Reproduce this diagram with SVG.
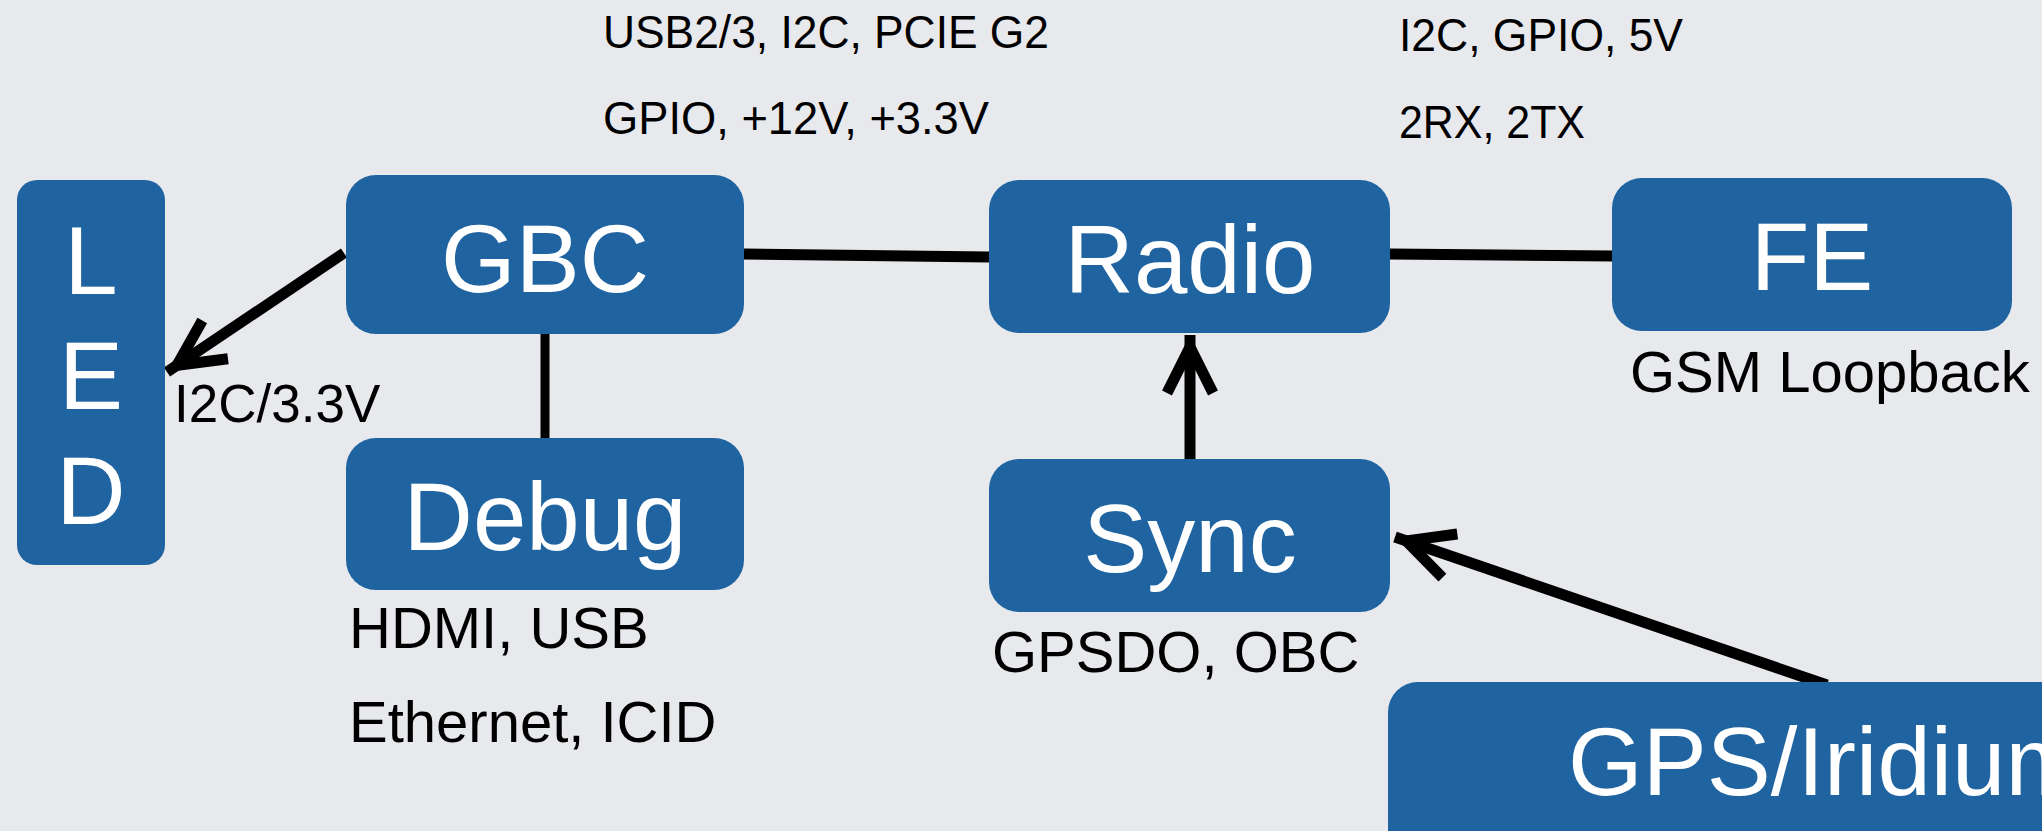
<svg xmlns="http://www.w3.org/2000/svg" width="2042" height="831" viewBox="0 0 2042 831">
  <style>
    .box { fill: #1f63a0; }
    .nlabel { font-family: "Liberation Sans", Arial, sans-serif; font-size: 96px; fill: #ffffff; text-anchor: middle; }
    .cond { font-family: "Liberation Sans Narrow", "Liberation Sans", Arial, sans-serif; font-size: 46px; fill: #000000; }
    .lbl { font-family: "Liberation Sans", Arial, sans-serif; font-size: 58px; fill: #000000; }
    .conn { stroke: #000000; stroke-width: 11; fill: none; stroke-linecap: butt; }
    .head { stroke: #000000; stroke-width: 11; fill: none; stroke-linejoin: miter; stroke-miterlimit: 10; stroke-linecap: butt; }
  </style>
  <defs>
    <marker id="arrow" markerUnits="userSpaceOnUse" viewBox="-60 -30 80 60" refX="12" refY="0" markerWidth="80" markerHeight="60" orient="auto" overflow="visible">
      <path class="head" d="M -46,-23 L 0,0 L -46,23"/>
    </marker>
  </defs>
  <rect width="2042" height="831" fill="#e8e9ed"/>

  <g id="connectors">
    <line class="conn" x1="744" y1="254" x2="989" y2="257"/>
    <line class="conn" x1="1390" y1="254" x2="1613" y2="256"/>
    <line class="conn" x1="545" y1="334" x2="545" y2="438" style="stroke-width:9"/>
    <line class="conn" x1="344" y1="253" x2="167" y2="372" marker-end="url(#arrow)"/>
    <line class="conn" x1="1190" y1="459" x2="1190" y2="335" marker-end="url(#arrow)"/>
    <line class="conn" x1="1827" y1="685" x2="1395" y2="537" marker-end="url(#arrow)"/>
  </g>

  <g id="node-led">
    <rect class="box" x="17" y="180" width="148" height="385" rx="20" ry="20"/>
    <text class="nlabel" x="91" y="294">L</text>
    <text class="nlabel" x="91" y="409">E</text>
    <text class="nlabel" x="91" y="524">D</text>
  </g>

  <g id="node-gbc">
    <rect class="box" x="346" y="175" width="398" height="159" rx="30" ry="30"/>
    <text class="nlabel" x="545" y="292">GBC</text>
  </g>

  <g id="node-debug">
    <rect class="box" x="346" y="438" width="398" height="152" rx="30" ry="30"/>
    <text class="nlabel" x="545" y="550">Debug</text>
  </g>

  <g id="node-radio">
    <rect class="box" x="989" y="180" width="401" height="153" rx="30" ry="30"/>
    <text class="nlabel" x="1190" y="293">Radio</text>
  </g>

  <g id="node-fe">
    <rect class="box" x="1612" y="178" width="400" height="153" rx="30" ry="30"/>
    <text class="nlabel" x="1812" y="290">FE</text>
  </g>

  <g id="node-sync">
    <rect class="box" x="989" y="459" width="401" height="153" rx="30" ry="30"/>
    <text class="nlabel" x="1190" y="572">Sync</text>
  </g>

  <g id="node-gps">
    <rect class="box" x="1388" y="682" width="720" height="190" rx="30" ry="30"/>
    <text class="nlabel" x="1568" y="795" style="text-anchor:start">GPS/Iridium</text>
  </g>

  <g id="labels">
    <text class="cond" x="603" y="48" textLength="446" lengthAdjust="spacingAndGlyphs">USB2/3, I2C, PCIE G2</text>
    <text class="cond" x="603" y="134" textLength="386" lengthAdjust="spacingAndGlyphs">GPIO, +12V, +3.3V</text>
    <text class="cond" x="1399" y="51" textLength="284" lengthAdjust="spacingAndGlyphs">I2C, GPIO, 5V</text>
    <text class="cond" x="1399" y="138" textLength="186" lengthAdjust="spacingAndGlyphs">2RX, 2TX</text>
    <text class="lbl" x="174" y="422" style="font-size:53px">I2C/3.3V</text>
    <text class="lbl" x="349" y="648">HDMI, USB</text>
    <text class="lbl" x="349" y="742">Ethernet, ICID</text>
    <text class="lbl" x="992" y="672">GPSDO, OBC</text>
    <text class="lbl" x="1630" y="392">GSM Loopback</text>
  </g>
</svg>
